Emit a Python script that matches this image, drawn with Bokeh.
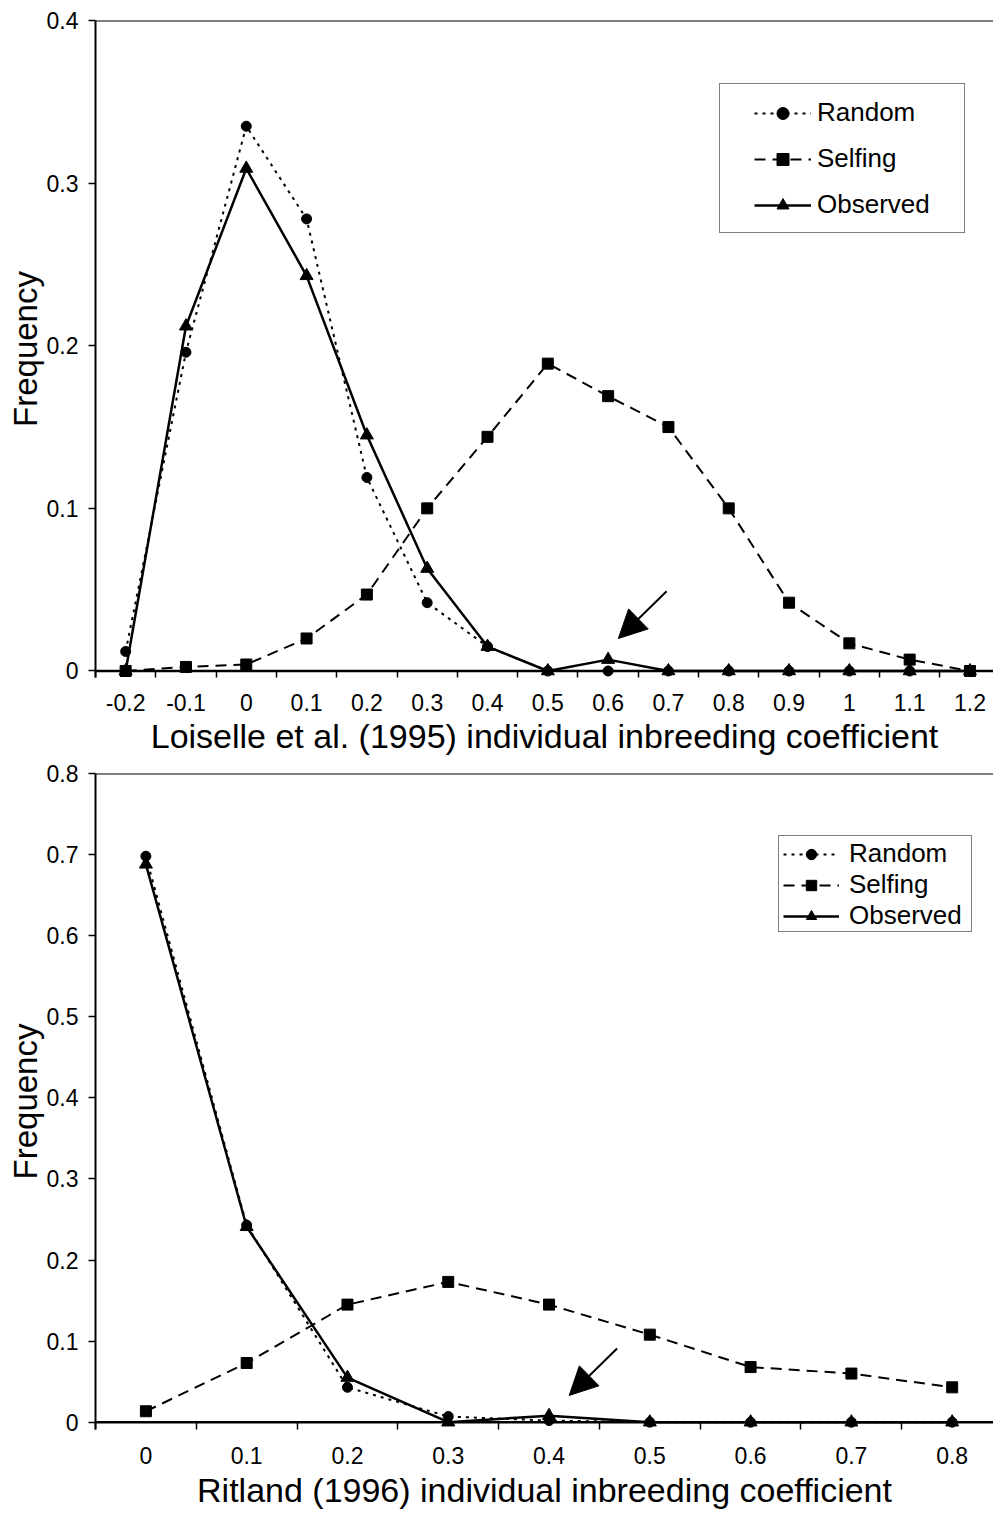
from bokeh.plotting import figure
from bokeh.layouts import column
from bokeh.models import (FixedTicker, NumeralTickFormatter, Span, Arrow, NormalHead,
                          Legend, LegendItem, Range1d)
from bokeh.embed import file_html
from bokeh.resources import INLINE

# ---------------- data: top panel (Loiselle et al. 1995) ----------------
top_x = [-0.2, -0.1, 0.0, 0.1, 0.2, 0.3, 0.4, 0.5, 0.6, 0.7, 0.8, 0.9, 1.0, 1.1, 1.2]
top_random = [0.012, 0.196, 0.335, 0.278, 0.119, 0.042, 0.015, 0.0, 0.0, 0.0, 0.0, 0.0, 0.0, 0.0, 0.0]
top_selfing = [0.0, 0.0025, 0.004, 0.020, 0.047, 0.100, 0.144, 0.189, 0.169, 0.150, 0.100, 0.042, 0.017, 0.007, 0.0]
top_observed = [0.0, 0.212, 0.309, 0.243, 0.145, 0.063, 0.015, 0.0, 0.007, 0.0, 0.0, 0.0, 0.0, 0.0, 0.0]
top_yticks = [0.0, 0.1, 0.2, 0.3, 0.4]
top_xlabel = "Loiselle et al. (1995) individual inbreeding coefficient"
top_arrow = [0.697, 0.049, 0.617, 0.020]  # x_start, y_start, x_end, y_end

# ---------------- data: bottom panel (Ritland 1996) ----------------
bot_x = [0.0, 0.1, 0.2, 0.3, 0.4, 0.5, 0.6, 0.7, 0.8]
bot_random = [0.698, 0.243, 0.043, 0.007, 0.002, 0.0, 0.0, 0.0, 0.0]
bot_selfing = [0.0135, 0.073, 0.145, 0.173, 0.145, 0.108, 0.068, 0.060, 0.043]
bot_observed = [0.688, 0.241, 0.055, 0.0, 0.008, 0.0, 0.0, 0.0, 0.0]
bot_yticks = [0.0, 0.1, 0.2, 0.3, 0.4, 0.5, 0.6, 0.7, 0.8]
bot_xlabel = "Ritland (1996) individual inbreeding coefficient"
bot_arrow = [0.4675, 0.091, 0.42, 0.033]

series_names = ["Random", "Selfing", "Observed"]
FONT = "Liberation Sans"


def boundaries(xs):
    step = xs[1] - xs[0]
    b = [xs[0] - step / 2]
    for a, c in zip(xs[:-1], xs[1:]):
        b.append((a + c) / 2)
    b.append(xs[-1] + step / 2)
    return b


def make_chart(xs, rnd, sel, obs, yticks, xlabel, arrow, x_end, y_pad,
               height, border_top, border_bottom, tick_standoff, title_standoff, leg):
    step = xs[1] - xs[0]
    p = figure(width=993, height=height, output_backend="svg", toolbar_location=None,
               x_range=Range1d(xs[0] - step / 2, x_end),
               y_range=Range1d(-y_pad, yticks[-1]),
               min_border_left=95, min_border_right=0,
               min_border_top=border_top, min_border_bottom=border_bottom)
    p.outline_line_color = None
    p.grid.visible = False
    p.background_fill_color = "white"
    p.border_fill_color = "white"

    # x axis: labels at category centres, ticks at category boundaries
    xa = p.xaxis[0]
    xa.ticker = FixedTicker(ticks=xs, minor_ticks=boundaries(xs))
    xa.formatter = NumeralTickFormatter(format="0.[0]")
    xa.axis_line_color = None
    xa.major_tick_in = 0
    xa.major_tick_out = 0
    xa.minor_tick_in = 7
    xa.minor_tick_out = 0
    xa.minor_tick_line_color = "black"
    xa.minor_tick_line_width = 1.5
    xa.major_label_standoff = tick_standoff
    xa.major_label_text_font = FONT
    xa.major_label_text_font_size = "23px"
    xa.major_label_text_color = "black"
    xa.axis_label = xlabel
    xa.axis_label_text_font = FONT
    xa.axis_label_text_font_size = "34px"
    xa.axis_label_text_font_style = "normal"
    xa.axis_label_text_color = "black"
    xa.axis_label_standoff = title_standoff

    ya = p.yaxis[0]
    ya.ticker = FixedTicker(ticks=yticks)
    ya.formatter = NumeralTickFormatter(format="0.[0]")
    ya.axis_line_color = "black"
    ya.axis_line_width = 2
    ya.major_tick_in = 0
    ya.major_tick_out = 7
    ya.major_tick_line_width = 1.5
    ya.minor_tick_out = 0
    ya.minor_tick_in = 0
    ya.major_label_standoff = 10
    ya.major_label_text_font = FONT
    ya.major_label_text_font_size = "23px"
    ya.major_label_text_color = "black"
    ya.axis_label = "Frequency"
    ya.axis_label_text_font = FONT
    ya.axis_label_text_font_size = "33px"
    ya.axis_label_text_font_style = "normal"
    ya.axis_label_text_color = "black"
    ya.axis_label_standoff = 0

    # baseline and top line
    p.add_layout(Span(location=0, dimension="width", line_color="black", line_width=2.5))
    p.add_layout(Span(location=yticks[-1], dimension="width", line_color="black", line_width=2))

    r_line = p.line(xs, rnd, line_color="black", line_width=2, line_dash="3 5")
    r_pts = p.scatter(xs, rnd, marker="circle", size=10, fill_color="black", line_color="black")
    s_line = p.line(xs, sel, line_color="black", line_width=2, line_dash="11 7")
    s_pts = p.scatter(xs, sel, marker="square", size=11, fill_color="black", line_color="black")
    o_line = p.line(xs, obs, line_color="black", line_width=2.5)
    o_pts = p.scatter(xs, obs, marker="triangle", size=13, fill_color="black", line_color="black")

    p.add_layout(Arrow(end=NormalHead(size=28, fill_color="black", line_color="black"),
                       x_start=arrow[0], y_start=arrow[1], x_end=arrow[2], y_end=arrow[3],
                       line_color="black", line_width=2))

    items = [LegendItem(label=series_names[0], renderers=[r_line, r_pts]),
             LegendItem(label=series_names[1], renderers=[s_line, s_pts]),
             LegendItem(label=series_names[2], renderers=[o_line, o_pts])]
    legend = Legend(items=items, location=leg["loc"],
                    glyph_width=leg["gw"], glyph_height=leg["gh"],
                    label_height=leg["lh"], spacing=leg["sp"],
                    label_standoff=leg["so"],
                    label_text_font=FONT, label_text_font_size="26px",
                    label_text_color="black",
                    border_line_color="black", border_line_width=1.5,
                    background_fill_color="white", background_fill_alpha=1.0,
                    margin=0)
    try:
        legend.padding = leg["pad"]
    except Exception:
        legend.padding = leg["pad_fallback"]
    p.add_layout(legend)
    return p


top = make_chart(top_x, top_random, top_selfing, top_observed, top_yticks, top_xlabel,
                 top_arrow, x_end=1.239, y_pad=0.004, height=760,
                 border_top=20, border_bottom=83, tick_standoff=16, title_standoff=3,
                 leg=dict(loc=(624, 444), gw=57, gh=30, lh=30, sp=15, so=6,
                          pad=dict(top=13, right=34, bottom=12, left=34), pad_fallback=12))

bottom = make_chart(bot_x, bot_random, bot_selfing, bot_observed, bot_yticks, bot_xlabel,
                    bot_arrow, x_end=0.841, y_pad=0.009, height=754,
                    border_top=13, border_bottom=85, tick_standoff=17, title_standoff=4,
                    leg=dict(loc=(683, 497), gw=56, gh=26, lh=26, sp=0, so=10,
                             pad=dict(top=2, right=9, bottom=0, left=4), pad_fallback=2))

layout = column(top, bottom, spacing=0)
open("out.html", "w").write(file_html(layout, INLINE))
